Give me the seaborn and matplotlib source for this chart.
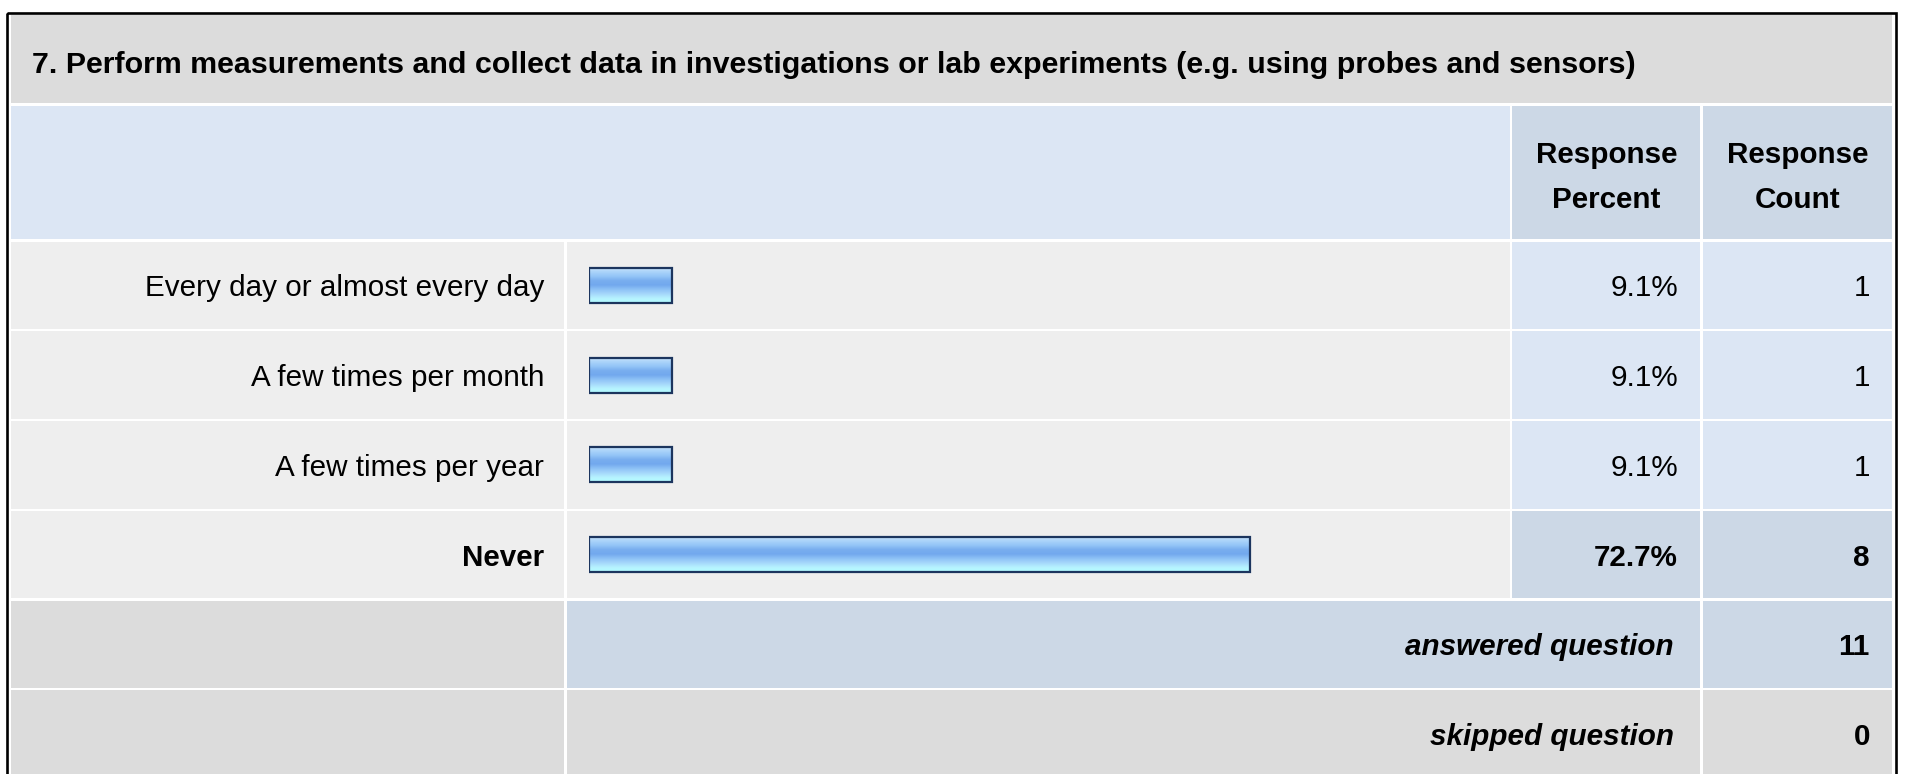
import numpy as np
import matplotlib
matplotlib.use("Agg")
import matplotlib.pyplot as plt
from matplotlib.patches import Rectangle
from matplotlib.colors import LinearSegmentedColormap
import seaborn as sns

# Survey data
title = ("7. Perform measurements and collect data in investigations or lab "
         "experiments (e.g. using probes and sensors)")
categories = ["Every day or almost every day", "A few times per month",
              "A few times per year", "Never"]
percent = [9.1, 9.1, 9.1, 72.7]
counts = [1, 1, 1, 8]
answered = 11
skipped = 0
header_cols = [["Response", "Percent"], ["Response", "Count"]]

sns.set_theme(style="white")
plt.rcParams['font.family'] = ['Liberation Sans', 'DejaVu Sans']

W, H = 1907, 774
FS = 21.3
GRAY = "#dcdcdc"
ROWBG = "#eeeeee"
LIGHT = "#dce6f4"
MID = "#ccd8e6"

fig = plt.figure(figsize=(W / 100, H / 100), dpi=100)
fig.patch.set_facecolor("white")
ax = fig.add_axes([0, 0, 1, 1])
ax.set_xlim(0, W)
ax.set_ylim(H, 0)
ax.set_axis_off()

# table grid (pixel coords)
xs = [9.8, 565.5, 1511, 1701.5, 1893.2]
ys = [13.8, 104.5, 240.5, 330.25, 420, 509.75, 599.5, 689.25, 779]
g = 1.2


def cell(x0, x1, y0, y1, color):
    ax.add_patch(Rectangle((x0 + g, y0 + g), x1 - x0 - 2 * g, y1 - y0 - 2 * g,
                           facecolor=color, lw=0, zorder=1))


def txt(x, y, s, ha="right", weight="normal", style="normal", size=FS):
    ax.text(x, y, s, ha=ha, va="baseline", fontsize=size, fontweight=weight,
            fontstyle=style, color="black", zorder=5)


# title row
cell(xs[0], xs[4], ys[0], ys[1], GRAY)
txt(32, 73, title, ha="left", weight="bold", size=21.9)

# header row
cell(xs[0], xs[2], ys[1], ys[2], LIGHT)
cell(xs[2], xs[3], ys[1], ys[2], MID)
cell(xs[3], xs[4], ys[1], ys[2], MID)
for j, lines in enumerate(header_cols):
    cx = (xs[2 + j] + xs[3 + j]) / 2
    txt(cx, 163, lines[0], ha="center", weight="bold")
    txt(cx, 208, lines[1], ha="center", weight="bold")

# data rows
imax = int(np.argmax(percent))
for i, (lab, p, c) in enumerate(zip(categories, percent, counts)):
    y0, y1 = ys[2 + i], ys[3 + i]
    yc = (y0 + y1) / 2 + 11
    hl = i == imax
    cell(xs[0], xs[1], y0, y1, ROWBG)
    cell(xs[1], xs[2], y0, y1, ROWBG)
    cell(xs[2], xs[3], y0, y1, MID if hl else LIGHT)
    cell(xs[3], xs[4], y0, y1, MID if hl else LIGHT)
    w = "bold" if hl else "normal"
    txt(544, yc, lab, weight=w)
    txt(1678, yc, f"{p:.1f}%", weight=w)
    txt(1870, yc, str(c), weight=w)

# answered / skipped rows
for k, (lab, val, bg) in enumerate([("answered question", answered, MID),
                                    ("skipped question", skipped, GRAY)]):
    y0, y1 = ys[6 + k], ys[7 + k]
    yc = (y0 + y1) / 2 + 11
    cell(xs[0], xs[1], y0, y1, GRAY)
    cell(xs[1], xs[3], y0, y1, bg)
    cell(xs[3], xs[4], y0, y1, bg)
    txt(1674, yc, lab, weight="bold", style="italic")
    txt(1870, yc, str(val), weight="bold")

# outer border
ax.add_patch(Rectangle((7, 13), 1895.5 - 7, 820, facecolor="none",
                       edgecolor="black", lw=1.9, zorder=6))

# bars
bx0, bw = 589, 909.5
axb = fig.add_axes([bx0 / W, 1 - ys[6] / H, bw / W, (ys[6] - ys[2]) / H])
sns.barplot(x=percent, y=categories, orient="h", ax=axb, width=0.39,
            color="#8fc3f6", edgecolor="#1c355e", linewidth=1.6)

grad_cols = ["#cfe6fc", "#acd4fa", "#95c6f7", "#79aeef", "#72a8ee",
             "#8ec2f6", "#a6d8fb", "#b6f3ff", "#b3fdff"]
cmap = LinearSegmentedColormap.from_list("bar", grad_cols)
grad = np.linspace(0, 1, 256).reshape(-1, 1)
for p in list(axb.patches):
    x0, y0 = p.get_x(), p.get_y()
    pw, ph = p.get_width(), p.get_height()
    im = axb.imshow(grad, extent=[x0, x0 + pw, y0 + ph, y0], aspect="auto",
                    cmap=cmap, zorder=1, interpolation="bilinear")
    im.set_clip_path(p)
    p.set_facecolor("none")
    p.set_zorder(3)

axb.set_xlim(0, 100)
axb.set_ylim(len(categories) - 0.5, -0.5)
axb.set_axis_off()

fig.savefig("out.png", dpi=100)
